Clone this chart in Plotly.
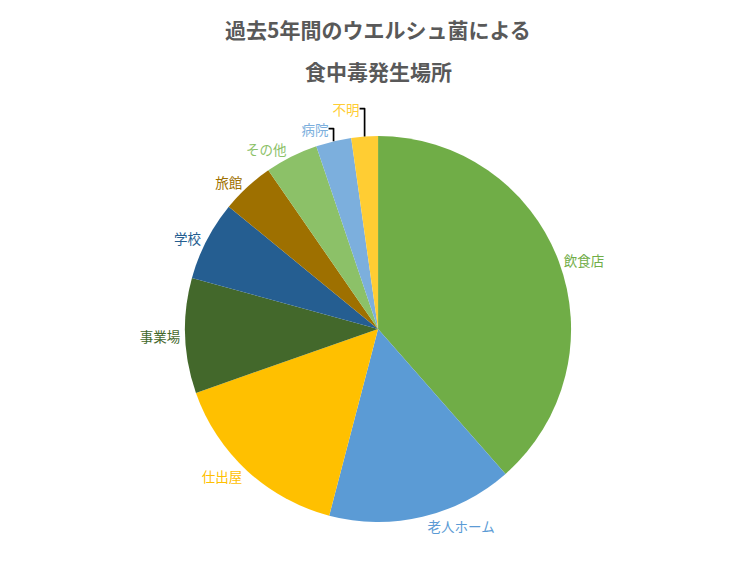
import plotly.graph_objects as go

# 過去5年間のウエルシュ菌による食中毒発生場所（件数）
places = ['飲食店', '老人ホーム', '仕出屋', '事業場', '学校', '旅館', 'その他', '病院', '不明']
counts = [52, 21, 21, 13, 9, 6, 6, 4, 3]
colors = ['#70AD47', '#5B9BD5', '#FFC000', '#43682B', '#255E91',
          '#9E7000', '#8CC168', '#7CAFDD', '#FFCD33']

fig = go.Figure()
fig.add_trace(go.Pie(labels=places, values=counts, sort=False, direction='clockwise', rotation=0,
                     marker={'colors': colors, 'line': {'width': 0}},
                     textinfo='label', textposition='outside', automargin=False,
                     outsidetextfont={'color': colors, 'size': 13.5, 'family': 'Noto Sans CJK JP'},
                     domain={'x': [0, 0.979], 'y': [0, 1]},
                     hoverinfo='label+value+percent', showlegend=False))

fig.add_annotation(text='<b>過去5年間のウエルシュ菌による</b>', x=0.4895, y=1.278, xref='paper', yref='paper',
                   showarrow=False, xanchor='center', yanchor='middle',
                   font={'size': 21, 'color': '#595959', 'family': 'Noto Sans CJK JP'})
fig.add_annotation(text='<b>食中毒発生場所</b>', x=0.4895, y=1.169, xref='paper', yref='paper',
                   showarrow=False, xanchor='center', yanchor='middle',
                   font={'size': 21, 'color': '#595959', 'family': 'Noto Sans CJK JP'})

fig.update_layout(width=756, height=567, paper_bgcolor='white', plot_bgcolor='white',
                  margin={'l': 0, 'r': 0, 't': 128, 'b': 53, 'autoexpand': False},
                  font={'family': 'Noto Sans CJK JP'})

fig.write_html('out.html')
